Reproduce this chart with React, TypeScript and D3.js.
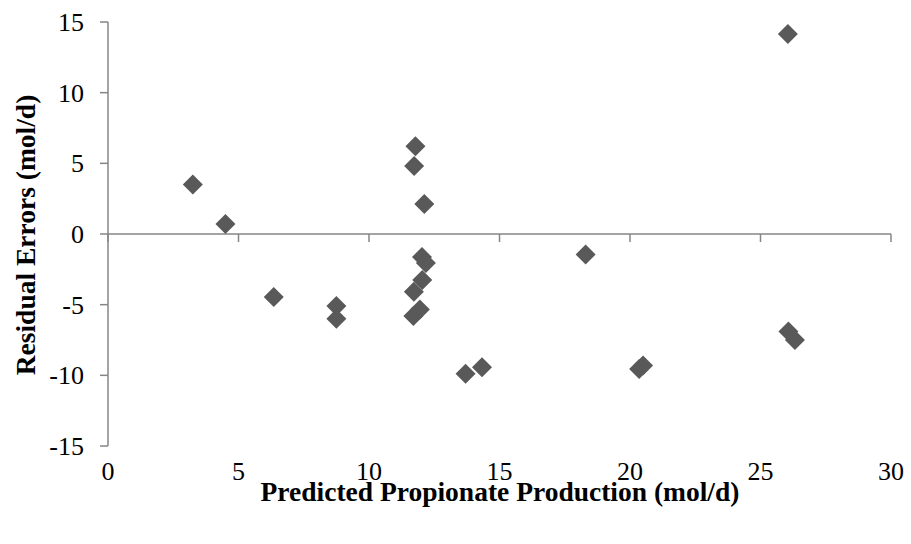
import React from "react";
import * as d3 from "d3";

const predicted = [3.25, 4.5, 6.35, 8.75, 8.75, 11.78, 11.73, 12.12, 12.03, 12.18, 12.04, 11.72, 11.95, 11.7, 13.7, 14.33, 18.3, 20.35, 20.5, 26.05, 26.07, 26.32];
const residual = [3.5, 0.7, -4.45, -5.1, -6.0, 6.2, 4.82, 2.12, -1.63, -2.05, -3.26, -4.08, -5.35, -5.8, -9.88, -9.42, -1.45, -9.55, -9.3, 14.15, -6.9, -7.5];
const xTicks = [0, 5, 10, 15, 20, 25, 30];
const yTicks = [-15, -10, -5, 0, 5, 10, 15];

export default function App() {
  const W = 911, H = 544;
  const x = d3.scaleLinear().domain([0, 30]).range([108, 891]);
  const y = d3.scaleLinear().domain([-15, 15]).range([446, 22]);
  const axisColor = "#868686";
  const font = "'Liberation Serif', 'Times New Roman', serif";
  const sym = d3.symbol().type(d3.symbolSquare).size(200)();
  return (
    <svg width={W} height={H} style={{ position: "absolute", left: 0, top: 0, background: "#fff" }}>
      {/* y axis */}
      <line x1={x(0)} x2={x(0)} y1={y(15)} y2={y(-15)} stroke={axisColor} strokeWidth={1.5} />
      {yTicks.map((t) => (
        <g key={"y" + t}>
          <line x1={x(0) - 8} x2={x(0)} y1={y(t)} y2={y(t)} stroke={axisColor} strokeWidth={1.5} />
          <text x={84} y={y(t)} dy="0.35em" textAnchor="end" fontFamily={font} fontSize={26} fill="#000">
            {t}
          </text>
        </g>
      ))}
      {/* x axis at y=0 */}
      <line x1={x(0)} x2={x(30)} y1={y(0)} y2={y(0)} stroke={axisColor} strokeWidth={1.5} />
      {xTicks.map((t) => (
        <g key={"x" + t}>
          <line x1={x(t)} x2={x(t)} y1={y(0)} y2={y(0) + 8} stroke={axisColor} strokeWidth={1.5} />
          <text x={x(t)} y={480} textAnchor="middle" fontFamily={font} fontSize={26} fill="#000">
            {t}
          </text>
        </g>
      ))}
      {predicted.map((p, i) => (
        <path
          key={i}
          d={sym}
          transform={`translate(${x(p)},${y(residual[i])}) rotate(45)`}
          fill="#595959"
        />
      ))}
      <text x={500} y={501} textAnchor="middle" fontFamily={font} fontSize={27.5} fontWeight="bold" fill="#000">
        Predicted Propionate Production (mol/d)
      </text>
      <text
        transform={`translate(35,235) rotate(-90)`}
        textAnchor="middle"
        fontFamily={font}
        fontSize={27.5}
        fontWeight="bold"
        fill="#000"
      >
        Residual Errors (mol/d)
      </text>
    </svg>
  );
}
